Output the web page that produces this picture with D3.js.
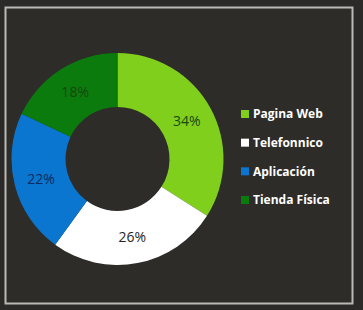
<html>
<head>
<meta charset="utf-8">
<style>
  body { margin: 0; background: #2b2a28; }
  svg { display: block; }
  .pct { font: 14px "Open Sans", sans-serif; text-anchor: middle; }
  .leg { font: bold 12px "Open Sans", sans-serif; fill: #ffffff; }
</style>
</head>
<body>
<svg width="363" height="310"></svg>
<script src="https://d3js.org/d3.v7.min.js"></script>
<script>

var categories = ["Pagina Web", "Telefonnico", "Aplicación", "Tienda Física"];
var values = [34, 26, 22, 18];
var colors = ["#80cf1c", "#ffffff", "#0b76cf", "#0b7b0e"];
var labelColors = ["#18480c", "#262626", "#0a2a60", "#18480c"];

var svg = d3.select("svg");

// frame
svg.append("rect")
    .attr("x", 5.5).attr("y", 7.5)
    .attr("width", 347).attr("height", 296)
    .attr("fill", "#2d2c29")
    .attr("stroke", "#b9b9b5")
    .attr("stroke-width", 2);

var cx = 117.5, cy = 159, rOut = 106, rIn = 52;

var pie = d3.pie().sort(null).value(function(d) { return d; });
var arc = d3.arc().innerRadius(rIn).outerRadius(rOut);
var labelArc = d3.arc().innerRadius(79).outerRadius(79);

var g = svg.append("g").attr("transform", "translate(" + cx + "," + cy + ")");

var slices = g.selectAll(".slice")
  .data(pie(values))
  .enter().append("g")
    .attr("class", "slice");

slices.append("path")
    .attr("d", arc)
    .attr("fill", function(d, i) { return colors[i]; });

slices.append("text")
    .attr("class", "pct")
    .attr("transform", function(d) { return "translate(" + labelArc.centroid(d) + ")"; })
    .attr("dy", "0.35em")
    .attr("fill", function(d, i) { return labelColors[i]; })
    .text(function(d) { return d.data + "%"; });

// legend
var y = d3.scalePoint().domain(categories).range([114, 200]);

var leg = svg.selectAll(".legend")
  .data(categories)
  .enter().append("g")
    .attr("transform", function(d) { return "translate(241," + y(d) + ")"; });

leg.append("rect")
    .attr("x", 0).attr("y", -4)
    .attr("width", 8).attr("height", 8)
    .attr("fill", function(d, i) { return colors[i]; });

leg.append("text")
    .attr("class", "leg")
    .attr("x", 12)
    .attr("dy", "0.35em")
    .text(function(d) { return d; });

</script>
</body>
</html>
